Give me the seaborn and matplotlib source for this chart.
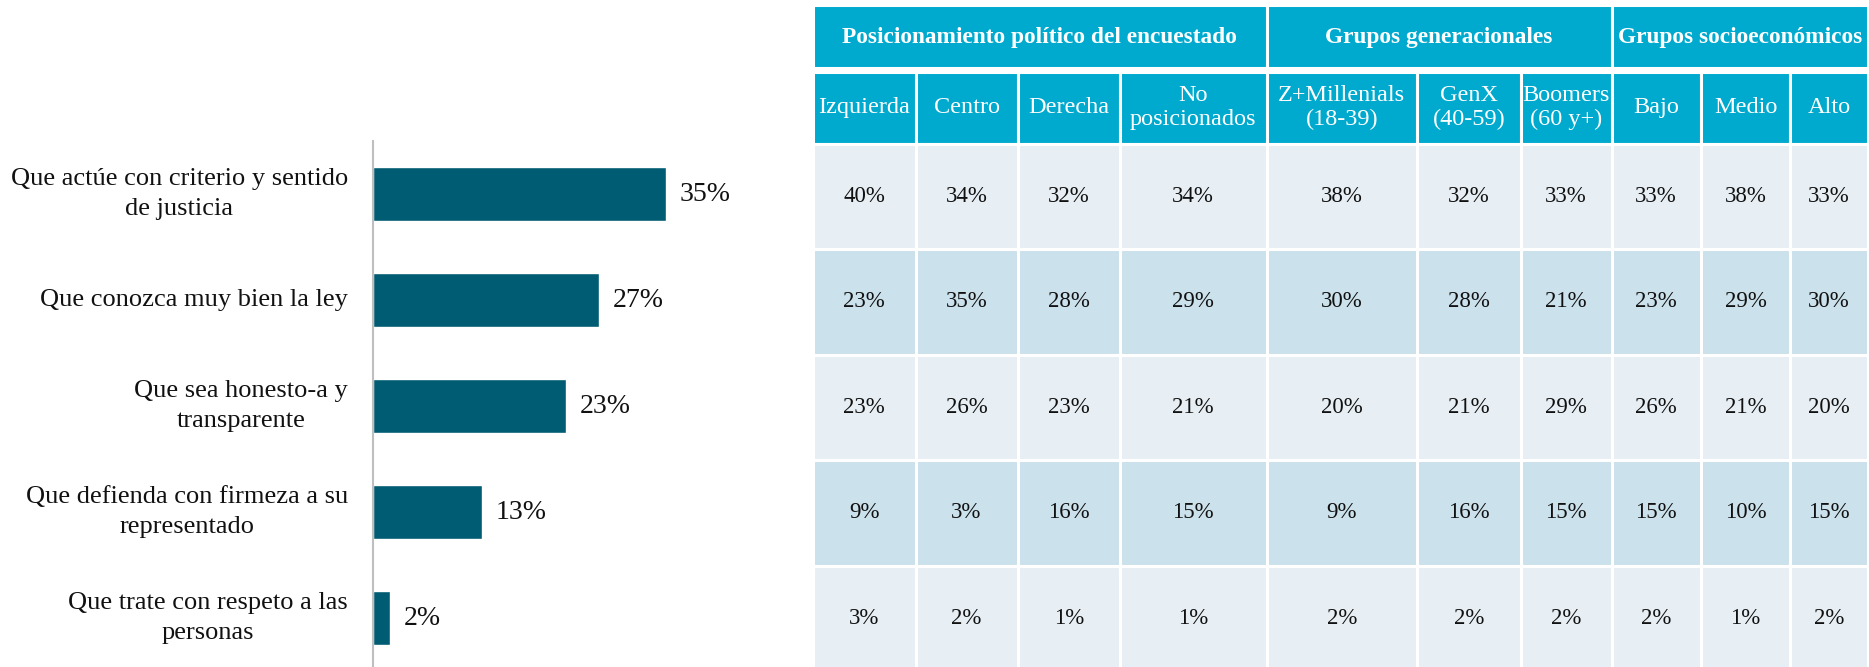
import numpy as np
import pandas as pd
import matplotlib.pyplot as plt
import seaborn as sns

# ---- data ----
categories = [
    "Que actúe con criterio y sentido\nde justicia",
    "Que conozca muy bien la ley",
    "Que sea honesto-a y\ntransparente",
    "Que defienda con firmeza a su\nrepresentado",
    "Que trate con respeto a las\npersonas",
]
totals = [35, 27, 23, 13, 2]

groups = ["Posicionamiento político del encuestado", "Grupos generacionales", "Grupos socioeconómicos"]
group_spans = [4, 3, 3]
columns = ["Izquierda", "Centro", "Derecha", "No\nposicionados",
           "Z+Millenials\n(18-39)", "GenX\n(40-59)", "Boomers\n(60 y+)",
           "Bajo", "Medio", "Alto"]
row_1 = [40, 34, 32, 34, 38, 32, 33, 33, 38, 33]
row_2 = [23, 35, 28, 29, 30, 28, 21, 23, 29, 30]
row_3 = [23, 26, 23, 21, 20, 21, 29, 26, 21, 20]
row_4 = [9, 3, 16, 15, 9, 16, 15, 15, 10, 15]
row_5 = [3, 2, 1, 1, 2, 2, 2, 2, 1, 2]
table_rows = [row_1, row_2, row_3, row_4, row_5]

# ---- layout / style ----
W, H = 1869, 667
col_widths = [103, 102, 102.5, 146.5, 150.5, 104, 90.5, 89.5, 89, 78]
head1 = (5, 68)
head2 = (72, 143.5)
row_top, row_pitch = 143.5, 105.5

bar_color = "#005C72"
head_color = "#00AACE"
row_colors = ["#E7EFF5", "#CBE1EB"]
serif = ["Liberation Serif", "DejaVu Serif"]

sns.set_theme(style="white")
plt.rcParams["font.family"] = serif

fig = plt.figure(figsize=(W / 100, H / 100), dpi=100)

# ---- left: bar chart ----
ax = fig.add_axes([373 / W, 0, (800 - 373) / W, (H - 141) / H])
df = pd.DataFrame({"label": categories, "value": totals})
sns.barplot(data=df, x="value", y="label", orient="h", color=bar_color,
            saturation=1, width=0.51, ax=ax)
ax.set_xlim(0, 51)
ax.set_ylim(4.46, -0.5)
ax.set_xlabel("")
ax.set_ylabel("")
ax.set_xticks([])
for s in ["top", "right", "bottom"]:
    ax.spines[s].set_visible(False)
ax.spines["left"].set_color("#BFBFBF")
ax.spines["left"].set_linewidth(1.5)
ax.tick_params(axis="y", length=0, pad=18, labelsize=19)
for t in ax.get_yticklabels():
    t.set_multialignment("center")
    t.set_verticalalignment("center")
    t.set_linespacing(1.45)
    t.set_color("#111111")
ax.bar_label(ax.containers[0], labels=[f"{v}%" for v in totals],
             padding=10, fontsize=20, color="#111111")

# ---- right: table ----
tx = fig.add_axes([812.5 / W, 0, (W - 812.5) / W, 1])
tx.set_xlim(0, W - 812.5)
tx.set_ylim(H, 0)
tx.axis("off")

lefts = np.concatenate([[0], np.cumsum(col_widths)[:-1]])
centers = lefts + np.array(col_widths) / 2
lw = 2.2

# group header
g_left, g_width = [], []
i = 0
for span in group_spans:
    g_left.append(lefts[i])
    g_width.append(sum(col_widths[i:i + span]))
    i += span
tx.barh((head1[0] + head1[1]) / 2, g_width, left=g_left, height=head1[1] - head1[0],
        color=head_color, edgecolor="white", linewidth=lw, align="center")
for gl, gw, name in zip(g_left, g_width, groups):
    tx.text(gl + gw / 2, (head1[0] + head1[1]) / 2 + 1, name, ha="center", va="center",
            color="white", fontsize=16.8, fontweight="bold")

# column header
tx.barh((head2[0] + head2[1]) / 2, col_widths, left=lefts, height=head2[1] - head2[0],
        color=head_color, edgecolor="white", linewidth=lw)
for cx, name in zip(centers, columns):
    tx.text(cx, (head2[0] + head2[1]) / 2, name, ha="center", va="center",
            color="white", fontsize=17.5, linespacing=1.2)

# data rows
for r, vals in enumerate(table_rows):
    yc = row_top + row_pitch * (r + 0.5)
    tx.barh(yc, col_widths, left=lefts, height=row_pitch,
            color=row_colors[r % 2], edgecolor="white", linewidth=lw)
    for cx, v in zip(centers, vals):
        tx.text(cx, yc, f"{v}%", ha="center", va="center",
                color="#111111", fontsize=16.5)

fig.savefig("out.png", dpi=100)
